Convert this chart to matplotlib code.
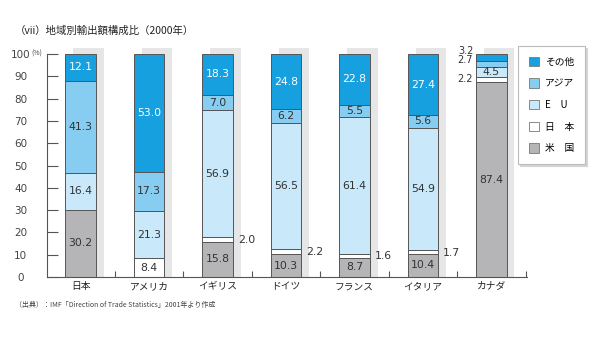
import matplotlib
matplotlib.use("Agg")
import matplotlib.pyplot as plt
from matplotlib.patches import Patch
import numpy as np

plt.rcParams['font.family'] = ['Noto Sans CJK JP', 'DejaVu Sans']
NUM_FONT = 'DejaVu Sans'

# data (2000, share of exports by destination, %)
countries = ['日本', 'アメリカ', 'イギリス', 'ドイツ', 'フランス', 'イタリア', 'カナダ']
usa = [30.2, 0.0, 15.8, 10.3, 8.7, 10.4, 87.4]
japan = [0.0, 8.4, 2.0, 2.2, 1.6, 1.7, 2.2]
eu = [16.4, 21.3, 56.9, 56.5, 61.4, 54.9, 4.5]
asia = [41.3, 17.3, 7.0, 6.2, 5.5, 5.6, 2.7]
other = [12.1, 53.0, 18.3, 24.8, 22.8, 27.4, 3.2]
series_names = ['米　国', '日　本', 'E　U', 'アジア', 'その他']
yticks = [0, 10, 20, 30, 40, 50, 60, 70, 80, 90, 100]

colors = ['#b5b5b8', '#ffffff', '#c9e9fa', '#86cdf1', '#16a0e0']
text_colors = ['#333333', '#333333', '#333333', '#333333', '#ffffff']
edge = '#555555'

fig = plt.figure(figsize=(6.05, 3.4), dpi=100)
W, H = 605, 340
ax = fig.add_axes([47 / W, 63 / H, 480 / W, 223 / H])

x = np.arange(len(countries))
width = 0.45

# light gray shading behind each bar
sh = ax.bar(x + 0.117, [102.7] * len(x), width=0.44, color='#e6e6e6',
            linewidth=0, zorder=0)
for p in sh:
    p.set_clip_on(False)

series = [usa, japan, eu, asia, other]
bottom = np.zeros(len(x))
for k, vals in enumerate(series):
    vals = np.array(vals)
    ax.bar(x, vals, width=width, bottom=bottom, color=colors[k],
           edgecolor=edge, linewidth=0.7, zorder=2)
    for i, v in enumerate(vals):
        if v == 0:
            continue
        mid = bottom[i] + v / 2
        label = f'{v:.1f}'
        if v >= 4:
            ax.text(x[i], mid, label, ha='center', va='center', fontsize=7.8,
                    family=NUM_FONT, color=text_colors[k], zorder=3)
        elif i == len(x) - 1:
            # canada: small parts labelled on the left
            nudge = {1: 0.5, 3: 1.8, 4: 3.0}.get(k, 0)
            ax.text(x[i] - width / 2 - 0.04, mid + nudge, label, ha='right',
                    va='center', fontsize=7, family=NUM_FONT,
                    color='#333333')
        else:
            ax.text(x[i] + width / 2 + 0.07, mid - 0.3, label, ha='left',
                    va='center', fontsize=7.8, family=NUM_FONT,
                    color='#333333')
    bottom += vals

ax.set_xlim(-0.49, 6.52)
ax.set_ylim(0, 100)

for s in ['top', 'right']:
    ax.spines[s].set_visible(False)
for s in ['left', 'bottom']:
    ax.spines[s].set_color(edge)
    ax.spines[s].set_linewidth(0.8)

ax.set_yticks(yticks)
ax.set_yticklabels([str(t) for t in yticks], ha='center', fontsize=7.5,
                   family=NUM_FONT, color='#444444')
ax.tick_params(axis='y', direction='in', length=8, width=0.8, color=edge,
               pad=19)
ax.set_xticks(x)
ax.set_xticklabels(countries, fontsize=7, color='#222222')
ax.tick_params(axis='x', length=0, pad=3)
ax.set_xticks(list(x + 0.5), minor=True)
ax.tick_params(axis='x', which='minor', direction='in', length=4, width=0.8,
               color=edge)

fig.text(31 / W, 1 - 54 / H, '(%)', fontsize=5, va='center', color='#444444')

handles = [Patch(facecolor=colors[k], edgecolor='#777777', linewidth=0.6)
           for k in range(4, -1, -1)]
labels = [series_names[k] for k in range(4, -1, -1)]
leg = ax.legend(handles, labels, loc='upper left',
                bbox_to_anchor=(518 / W, 1 - 46 / H),
                bbox_transform=fig.transFigure, fontsize=7, frameon=True,
                fancybox=False, edgecolor='#bbbbbb',
                shadow={'ox': 1.2, 'oy': -1.2, 'color': '#d4d4d4', 'alpha': 1},
                handlelength=1.1, handleheight=1.1, handletextpad=0.6,
                labelspacing=1.2, borderpad=1.1, borderaxespad=0)
leg.get_frame().set_linewidth(0.8)

fig.text(15 / W, 1 - 31 / H, '（vii）地域別輸出額構成比（2000年）',
         fontsize=7.5, va='center', color='#222222')
fig.text(15 / W, 1 - 305 / H,
         '（出典）：IMF「Direction of Trade Statistics」2001年より作成',
         fontsize=5, va='center', color='#444444')

fig.savefig('out.png', dpi=100)
